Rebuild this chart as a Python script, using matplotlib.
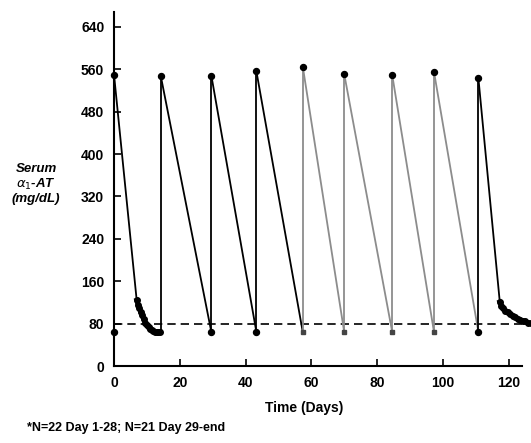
# Serum alpha-1 AT levels over time, recreated from a scanned figure
import matplotlib.pyplot as plt

plt.rcParams['font.family'] = ['Liberation Sans', 'DejaVu Sans']

# Infusion days (peak and trough share the day)
peak_days = [0, 14.2, 29.6, 43.3, 57.4, 70.0, 84.6, 97.3, 110.8]
peak_vals = [550, 548, 548, 556, 565, 551, 549, 555, 543]
# pre-infusion trough values at the same days
trough_days = [0, 14.2, 29.6, 43.3, 57.4, 70.0, 84.6, 97.3, 110.8]
trough_vals = [65, 64, 64, 64, 64, 64, 64, 64, 64]

# dense sampling after the first and last infusions
decay1_days = [6.9, 7.3, 7.7, 8.1, 8.5, 9.0, 9.5, 10.0, 10.5, 11.0, 11.5,
               12.0, 12.5, 13.0, 13.5, 14.0]
decay1_vals = [124, 116, 109, 102, 96, 89, 82, 77, 73, 70, 68, 66, 65, 64,
               64, 64]
decay2_days = [117.3, 117.8, 118.3, 119.0, 119.7, 120.4, 121.2, 122.0,
               122.8, 123.5, 124.3, 125.0, 125.8, 126.7]
decay2_vals = [121, 114, 109, 104, 101, 98, 95, 92, 89, 87, 85, 84, 82, 81]

threshold = 80
x_ticks = [0, 20, 40, 60, 80, 100, 120]
y_ticks = [0, 80, 160, 240, 320, 400, 480, 560, 640]
gray_cycles = [4, 5, 6, 7]   # cycles drawn in grey in the scan

fig = plt.figure(figsize=(5.31, 4.43), dpi=100)
ax = fig.add_axes([0.2147, 0.1738, 0.768, 0.799])

lw = 1.3
gcol = '#8c8c8c'

# threshold line
ax.plot([0, 127], [threshold, threshold], ls=(0, (5, 3)), color='black',
        lw=1.2, clip_on=False, zorder=1)

for i in range(len(peak_days)):
    col = gcol if i in gray_cycles else 'black'
    # rising line at the infusion
    if i > 0:
        ax.plot([trough_days[i], peak_days[i]], [trough_vals[i], peak_vals[i]],
                color=col, lw=lw, zorder=2)
    # decline to the next trough
    if i == 0:
        ax.plot([peak_days[0], decay1_days[0]], [peak_vals[0], decay1_vals[0]],
                color='black', lw=lw, zorder=2)
    elif i == len(peak_days) - 1:
        ax.plot([peak_days[i], decay2_days[0]], [peak_vals[i], decay2_vals[0]],
                color='black', lw=lw, zorder=2)
    else:
        ax.plot([peak_days[i], trough_days[i + 1]],
                [peak_vals[i], trough_vals[i + 1]], color=col, lw=lw, zorder=2)

ax.plot(decay1_days, decay1_vals, color='black', lw=3.5, marker='o', ms=4,
        zorder=3)
ax.plot(decay2_days, decay2_vals, color='black', lw=3.5, marker='o', ms=4,
        clip_on=False, zorder=3)

# markers
ax.plot(peak_days, peak_vals, 'o', color='black', ms=4.3, zorder=4,
        clip_on=False)
for i in range(len(trough_days)):
    if i == 1:
        continue
    if i in gray_cycles:
        ax.plot(trough_days[i], trough_vals[i], 's', color='#444444', ms=3.5,
                zorder=4)
    else:
        ax.plot(trough_days[i], trough_vals[i], 'o', color='black', ms=4.3,
                zorder=4, clip_on=False)

ax.set_xlim(0, 124)
ax.set_ylim(0, 668)
ax.set_xticks(x_ticks)
ax.set_yticks(y_ticks)
ax.tick_params(direction='in', length=5, width=1.2, pad=7, labelsize=10)
for lab in ax.get_xticklabels() + ax.get_yticklabels():
    lab.set_fontweight('bold')
ax.spines['top'].set_visible(False)
ax.spines['right'].set_visible(False)
ax.spines['left'].set_linewidth(1.5)
ax.spines['bottom'].set_linewidth(1.5)

ax.set_xlabel('Time (Days)', fontsize=10, fontweight='bold')
ax.xaxis.set_label_coords(0.466, -0.1)
fig.text(0.068, 0.585, 'Serum\n$\\alpha_1$-AT\n(mg/dL)', ha='center',
         va='center', fontsize=9.5, fontweight='bold', style='italic',
         linespacing=1.15)
fig.text(0.05, 0.02, '*N=22 Day 1-28; N=21 Day 29-end', fontsize=9,
         fontweight='bold', ha='left', va='bottom')

fig.savefig('out.png', dpi=100)
